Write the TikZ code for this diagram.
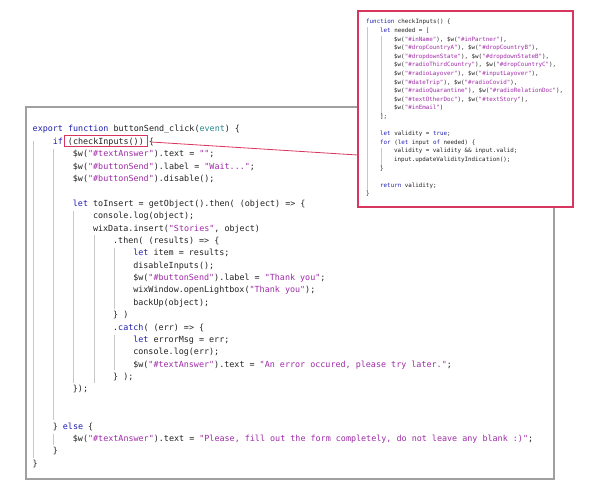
\documentclass[tikz,border=0pt]{standalone}
\usepackage{fontspec}
\setmonofont{DejaVu Sans Mono}
\definecolor{kw}{HTML}{1F1FB0}
\definecolor{st}{HTML}{A02BA8}
\definecolor{pa}{HTML}{2A8A8F}
\definecolor{tx}{HTML}{222222}
\definecolor{hl}{HTML}{D8365E}
\definecolor{frame}{HTML}{A0A0A0}
\definecolor{guide}{HTML}{C8C8C8}
\newcommand{\K}[1]{\textcolor{kw}{#1}}
\newcommand{\Sx}[1]{\textcolor{st}{#1}}
\newcommand{\Px}[1]{\textcolor{pa}{#1}}
\begin{document}
\begin{tikzpicture}[x=1pt,y=-1pt,
  mainline/.style={anchor=base west,inner sep=0pt,font=\ttfamily\fontsize{8.4}{10}\selectfont,text=tx},
  popline/.style={anchor=base west,inner sep=0pt,font=\ttfamily\fontsize{5.85}{7}\selectfont,text=tx},
  guideline/.style={draw=guide,line width=0.6pt}]
\useasboundingbox (0,0) rectangle (600,494);
% main frame
\draw[frame,line width=1.3pt,fill=white] (26,107) rectangle (554,479);
\def\cw{5.03}
\def\lh{12.38}
\def\xo{32.5}
\def\yo{132}
% guides
\foreach \c/\a/\b in {0/1/26.6, 4/1.6/23.5, 4/24.6/25.5, 8/6.6/20.5, 12/8.6/20.5, 16/9.6/14.5, 16/16.6/19.5}{
  \draw[guideline] ({\xo+\c*\cw+1},{\yo+\a*\lh-3}) -- ({\xo+\c*\cw+1},{\yo+\b*\lh-3});
}
\foreach \i/\c/\t in {
 0/0/{\K{export} \K{function} buttonSend\_click(\Px{event}) \{},
 1/4/{\K{if} (checkInputs()) \{},
 2/8/{\$w(\Sx{"\#textAnswer"}).text = \Sx{""};},
 3/8/{\$w(\Sx{"\#buttonSend"}).label = \Sx{"Wait..."};},
 4/8/{\$w(\Sx{"\#buttonSend"}).disable();},
 6/8/{\K{let} toInsert = getObject().then( (object) => \{},
 7/12/{console.log(object);},
 8/12/{wixData.insert(\Sx{"Stories"}, object)},
 9/16/{.then( (results) => \{},
 10/20/{\K{let} item = results;},
 11/20/{disableInputs();},
 12/20/{\$w(\Sx{"\#buttonSend"}).label = \Sx{"Thank you"};},
 13/20/{wixWindow.openLightbox(\Sx{"Thank you"});},
 14/20/{backUp(object);},
 15/16/{\} )},
 16/16/{.\K{catch}( (err) => \{},
 17/20/{\K{let} errorMsg = err;},
 18/20/{console.log(err);},
 19/20/{\$w(\Sx{"\#textAnswer"}).text = \Sx{"An error occured, please try later."};},
 20/16/{\} );},
 21/8/{\});},
 24/4/{\} \K{else} \{},
 25/8/{\$w(\Sx{"\#textAnswer"}).text = \Sx{"Please, fill out the form completely, do not leave any blank :)"};},
 26/4/{\}},
 27/0/{\}}}{
  \node[mainline] (m\i) at ({\xo+\c*\cw},{\yo+\i*\lh}) {\t};
}
% highlight box around (checkInputs())
\node[draw=hl,line width=1pt,inner sep=0pt,minimum width=83pt,minimum height=11pt] (hbox) at (105.5,141.5) {};
\coordinate (brace) at (151,142);
% popup
\node[draw=hl,line width=1.2pt,fill=white,minimum width=215pt,minimum height=196pt,inner sep=0pt] (pop) at (465.5,109) {};
\draw[hl,line width=0.8pt] (brace) -- (pop.west |- 0,155);
\def\pcw{3.5}
\def\plh{8.6}
\def\pxo{366}
\def\pyo{24}
\draw[guideline,line width=0.4pt] ({\pxo+1},{\pyo+0.6*\plh-2}) -- ({\pxo+1},{\pyo+20*\plh-5});
\draw[guideline,line width=0.4pt] ({\pxo+4*\pcw+1},{\pyo+1.6*\plh-2}) -- ({\pxo+4*\pcw+1},{\pyo+11*\plh-3});
\draw[guideline,line width=0.4pt] ({\pxo+4*\pcw+1},{\pyo+14.6*\plh-2}) -- ({\pxo+4*\pcw+1},{\pyo+17*\plh-3});
\foreach \i/\c/\t in {
 0/0/{\K{function} checkInputs() \{},
 1/4/{\K{let} needed = [},
 2/8/{\$w(\Sx{"\#inName"}), \$w(\Sx{"\#inPartner"}),},
 3/8/{\$w(\Sx{"\#dropCountryA"}), \$w(\Sx{"\#dropCountryB"}),},
 4/8/{\$w(\Sx{"\#dropdownState"}), \$w(\Sx{"\#dropdownStateB"}),},
 5/8/{\$w(\Sx{"\#radioThirdCountry"}), \$w(\Sx{"\#dropCountryC"}),},
 6/8/{\$w(\Sx{"\#radioLayover"}), \$w(\Sx{"\#inputLayover"}),},
 7/8/{\$w(\Sx{"\#dateTrip"}), \$w(\Sx{"\#radioCovid"}),},
 8/8/{\$w(\Sx{"\#radioQuarantine"}), \$w(\Sx{"\#radioRelationDoc"}),},
 9/8/{\$w(\Sx{"\#textOtherDoc"}), \$w(\Sx{"\#textStory"}),},
 10/8/{\$w(\Sx{"\#inEmail"})},
 11/4/{];},
 13/4/{\K{let} validity = \K{true};},
 14/4/{\K{for} (\K{let} input \K{of} needed) \{},
 15/8/{validity = validity \&\& input.valid;},
 16/8/{input.updateValidityIndication();},
 17/4/{\}},
 19/4/{\K{return} validity;},
 20/0/{\}}}{
  \node[popline] (p\i) at ({\pxo+\c*\pcw},{\pyo+\i*\plh}) {\t};
}
\end{tikzpicture}
\end{document}
